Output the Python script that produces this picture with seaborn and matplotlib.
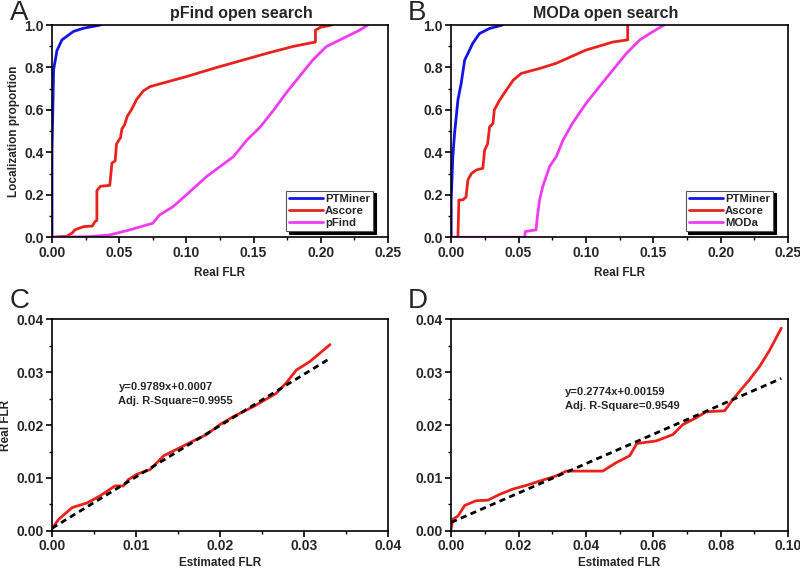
#!/usr/bin/env python3
"""
Site localization FLR comparison: PTMiner vs Ascore vs pFind / MODa
"""

import pandas as pd
import matplotlib
matplotlib.use('Agg')
import matplotlib.pyplot as plt
from matplotlib.ticker import MultipleLocator
import seaborn as sns

# ---- Panel A: pFind open search (Real FLR vs localization proportion) ----
a_ptminer_x = [0.0, 0.0, 0.0012, 0.0037, 0.0074, 0.016, 0.0235, 0.036]
a_ptminer_y = [0.0, 0.40, 0.79, 0.88, 0.93, 0.97, 0.985, 1.0]

a_ascore_x = [0.0, 0.011, 0.015, 0.017, 0.0235, 0.030, 0.032, 0.0334, 0.0334,
              0.036, 0.043, 0.0446, 0.047, 0.048, 0.051, 0.052, 0.054, 0.056,
              0.059, 0.063, 0.068, 0.073, 0.100, 0.1225, 0.160, 0.180, 0.196,
              0.196, 0.200, 0.208]
a_ascore_y = [0.0, 0.005, 0.02, 0.035, 0.05, 0.053, 0.074, 0.08, 0.22,
              0.24, 0.245, 0.35, 0.36, 0.44, 0.47, 0.51, 0.53, 0.57,
              0.60, 0.65, 0.69, 0.71, 0.757, 0.80, 0.867, 0.90, 0.92,
              0.976, 0.99, 1.0]

a_pfind_x = [0.0, 0.028, 0.043, 0.058, 0.066, 0.075, 0.080, 0.090, 0.100,
             0.115, 0.125, 0.135, 0.145, 0.155, 0.165, 0.174, 0.184, 0.194,
             0.204, 0.219, 0.229, 0.235]
a_pfind_y = [0.0, 0.003, 0.011, 0.035, 0.05, 0.066, 0.105, 0.144, 0.20,
             0.286, 0.333, 0.38, 0.458, 0.52, 0.60, 0.678, 0.757, 0.835,
             0.898, 0.945, 0.976, 1.0]

# ---- Panel B: MODa open search ----
b_ptminer_x = [0.0, 0.0, 0.0012, 0.0025, 0.005, 0.0074, 0.010, 0.0124, 0.016,
               0.021, 0.0285, 0.038]
b_ptminer_y = [0.0, 0.176, 0.38, 0.49, 0.647, 0.725, 0.835, 0.866, 0.914,
               0.96, 0.984, 1.0]

b_ascore_x = [0.0, 0.005, 0.0057, 0.0087, 0.011, 0.0124, 0.015, 0.0186, 0.0235,
              0.0248, 0.027, 0.0285, 0.031, 0.032, 0.036, 0.041, 0.046, 0.052,
              0.066, 0.078, 0.100, 0.120, 0.131, 0.131]
b_ascore_y = [0.0, 0.0, 0.176, 0.176, 0.19, 0.27, 0.30, 0.317, 0.325,
              0.41, 0.44, 0.52, 0.537, 0.60, 0.647, 0.694, 0.74, 0.772,
              0.796, 0.82, 0.882, 0.92, 0.93, 1.0]

b_moda_x = [0.0, 0.0545, 0.055, 0.063, 0.064, 0.0656, 0.068, 0.073, 0.078,
            0.083, 0.090, 0.100, 0.110, 0.120, 0.130, 0.140, 0.150, 0.158]
b_moda_y = [0.0, 0.0, 0.027, 0.035, 0.10, 0.176, 0.24, 0.333, 0.38,
            0.458, 0.537, 0.63, 0.71, 0.788, 0.866, 0.93, 0.97, 1.0]

# ---- Panel C: estimated vs real FLR (pFind) ----
c_est = [0.0, 0.0008, 0.0024, 0.0042, 0.0057, 0.0075, 0.0085, 0.0091, 0.0101,
         0.0117, 0.0133, 0.0152, 0.0172, 0.0184, 0.0200, 0.0216, 0.0240,
         0.0267, 0.0279, 0.0291, 0.0307, 0.0331]
c_real = [0.0004, 0.0022, 0.0044, 0.0053, 0.0066, 0.0085, 0.0085, 0.0097, 0.0107,
          0.0116, 0.0142, 0.0157, 0.0173, 0.0182, 0.0201, 0.0216, 0.0235,
          0.0260, 0.0280, 0.0304, 0.0320, 0.0352]
c_fit_x = [0.0, 0.033]
c_fit_y = [0.0005, 0.0325]
c_eq = ['y=0.9789x+0.0007', 'Adj. R-Square=0.9955']

# ---- Panel D: estimated vs real FLR (MODa) ----
d_est = [0.0, 0.0005, 0.002, 0.004, 0.0074, 0.0109, 0.0144, 0.0183, 0.0223,
         0.0262, 0.0312, 0.0342, 0.045, 0.049, 0.053, 0.0551, 0.0609, 0.0658,
         0.0688, 0.0728, 0.0757, 0.0812, 0.0837, 0.0886, 0.0916, 0.0946, 0.098]
d_real = [0.0004, 0.0022, 0.0028, 0.0048, 0.0057, 0.0058, 0.0069, 0.0079, 0.0086,
          0.0094, 0.0104, 0.0113, 0.0113, 0.0129, 0.0142, 0.0165, 0.0170, 0.0182,
          0.0201, 0.0214, 0.0225, 0.0227, 0.0249, 0.0286, 0.0311, 0.0342, 0.0383]
d_fit_x = [0.0, 0.098]
d_fit_y = [0.0016, 0.0288]
d_eq = ['y=0.2774x+0.00159', 'Adj. R-Square=0.9549']

BLUE = '#1414e6'
RED = '#e8221c'
MAGENTA = '#f03cf0'
FONT = ['Liberation Sans', 'DejaVu Sans']


def style_axis(ax, xmax, xmaj, ymax, ymaj):
    ax.set_xlim(0, xmax)
    ax.set_ylim(0, ymax)
    ax.xaxis.set_major_locator(MultipleLocator(xmaj))
    ax.xaxis.set_minor_locator(MultipleLocator(xmaj / 2))
    ax.yaxis.set_major_locator(MultipleLocator(ymaj))
    ax.yaxis.set_minor_locator(MultipleLocator(ymaj / 2))
    ax.tick_params(which='major', direction='out', length=4, width=1.2,
                   labelsize=10, pad=2, bottom=True, left=True,
                   top=False, right=False, color='black')
    ax.tick_params(which='minor', direction='out', length=2, width=1.0,
                   bottom=True, left=True, top=False, right=False,
                   color='black')
    for lab in ax.get_xticklabels() + ax.get_yticklabels():
        lab.set_fontweight('bold')
    for sp in ax.spines.values():
        sp.set_visible(True)
        sp.set_color('black')
        sp.set_linewidth(1.2)
    ax.grid(False)


def roc_panel(ax, curves, title, title_x):
    for name, xs, ys, col in curves:
        df = pd.DataFrame({'x': xs, 'y': ys})
        sns.lineplot(data=df, x='x', y='y', ax=ax, color=col, lw=2.0,
                     estimator=None, sort=False, label=name)
    ax.set_title(title, fontsize=11.5, fontweight='bold', pad=5, x=title_x)
    ax.set_xlabel('Real FLR', fontsize=8.5, fontweight='bold', labelpad=5)
    ax.set_ylabel('')
    style_axis(ax, 0.25, 0.05, 1.0, 0.2)
    ax.xaxis.set_major_formatter(plt.FormatStrFormatter('%.2f'))
    ax.yaxis.set_major_formatter(plt.FormatStrFormatter('%.1f'))
    leg = ax.legend(loc='lower right', bbox_to_anchor=(0.955, 0.03),
                    prop={'weight': 'bold', 'size': 8.2}, frameon=True,
                    fancybox=False, shadow={'color': 'black', 'alpha': 1},
                    handlelength=3.0, handletextpad=0.2, borderpad=0.25,
                    labelspacing=0.2, borderaxespad=0)
    leg.get_frame().set_edgecolor('#555555')
    leg.get_frame().set_linewidth(0.8)


def fit_panel(ax, est, real, fx, fy, eq, xmax, xmaj, tx, ty):
    df = pd.DataFrame({'est': est, 'real': real})
    sns.lineplot(data=df, x='est', y='real', ax=ax, color=RED, lw=2.0,
                 estimator=None, sort=False)
    sns.lineplot(x=fx, y=fy, ax=ax, color='black', lw=2.0,
                 linestyle=(0, (2.2, 1.6)), estimator=None)
    ax.text(tx, ty, eq[0] + '\n' + eq[1], fontsize=8, fontweight='bold',
            ha='left', va='center', linespacing=1.5)
    ax.set_xlabel('Estimated FLR', fontsize=8.5, fontweight='bold', labelpad=3)
    ax.set_ylabel('')
    style_axis(ax, xmax, xmaj, 0.04, 0.01)
    ax.xaxis.set_major_formatter(plt.FormatStrFormatter('%.2f'))
    ax.yaxis.set_major_formatter(plt.FormatStrFormatter('%.2f'))


sns.set_style('white')
plt.rcParams['font.family'] = FONT

fig = plt.figure(figsize=(8.0, 5.69), dpi=100)
ax_a = fig.add_axes([0.065, 0.583, 0.42, 0.373])
ax_b = fig.add_axes([0.564, 0.583, 0.421, 0.373])
ax_c = fig.add_axes([0.065, 0.067, 0.42, 0.372])
ax_d = fig.add_axes([0.564, 0.067, 0.421, 0.372])

roc_panel(ax_a, [('PTMiner', a_ptminer_x, a_ptminer_y, BLUE),
                 ('Ascore', a_ascore_x, a_ascore_y, RED),
                 ('pFind', a_pfind_x, a_pfind_y, MAGENTA)],
          'pFind open search', 0.565)
ax_a.set_ylabel('Localization proportion', fontsize=8.5, fontweight='bold',
                labelpad=3)

roc_panel(ax_b, [('PTMiner', b_ptminer_x, b_ptminer_y, BLUE),
                 ('Ascore', b_ascore_x, b_ascore_y, RED),
                 ('MODa', b_moda_x, b_moda_y, MAGENTA)],
          'MODa open search', 0.46)

fit_panel(ax_c, c_est, c_real, c_fit_x, c_fit_y, c_eq, 0.04, 0.01, 0.0079, 0.0259)
ax_c.set_ylabel('Real FLR', fontsize=8.5, fontweight='bold', labelpad=3)

fit_panel(ax_d, d_est, d_real, d_fit_x, d_fit_y, d_eq, 0.10, 0.02, 0.0337, 0.0249)

# panel letters
for letter, (x, y) in zip('ABCD', [(0.012, 0.955), (0.51, 0.955),
                                   (0.012, 0.448), (0.51, 0.448)]):
    fig.text(x, y, letter, fontsize=20, ha='left', va='bottom')

fig.savefig('out.png', dpi=100)
